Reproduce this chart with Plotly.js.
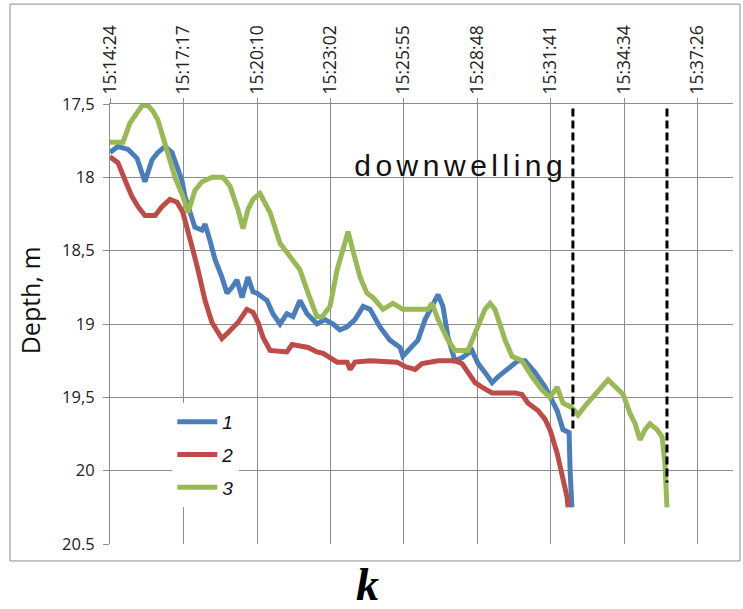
<!DOCTYPE html>
<html>
<head>
<meta charset="utf-8">
<script src="https://cdn.plot.ly/plotly-3.0.1.min.js"></script>
<style>html,body{margin:0;padding:0;background:#fff;}#chart{width:743px;height:609px;}</style>
</head>
<body>
<div id="chart"></div>
<script>
// elapsed minutes since 15:14:24 and depth (m)
const t1 = [0.00,0.31,0.71,1.06,1.37,1.65,1.88,2.16,2.43,2.63,2.82,2.94,3.14,3.33,3.61,3.73,3.92,4.12,4.39,4.59,4.79,4.98,5.18,5.41,5.61,5.77,6.16,6.39,6.67,6.94,7.18,7.45,7.73,8.12,8.43,8.75,9.02,9.30,9.61,9.93,10.20,10.59,10.98,11.38,11.49,11.85,12.08,12.36,12.63,12.87,13.06,13.26,13.53,13.81,14.20,14.44,14.71,14.99,15.22,15.61,16.01,16.28,16.67,17.07,17.34,17.54,17.77,18.01,18.05,18.12];
const d1 = [17.83,17.79,17.81,17.87,18.03,17.88,17.83,17.79,17.83,17.93,18.02,18.13,18.24,18.34,18.36,18.32,18.43,18.56,18.68,18.79,18.75,18.70,18.82,18.68,18.78,18.79,18.84,18.93,19.00,18.93,18.95,18.84,18.93,19.00,18.97,19.00,19.04,19.02,18.97,18.88,18.90,19.02,19.11,19.16,19.22,19.16,19.11,18.97,18.88,18.80,18.88,19.09,19.25,19.23,19.18,19.27,19.33,19.40,19.36,19.31,19.25,19.25,19.33,19.43,19.52,19.59,19.72,19.74,20.00,20.25];

const t2 = [0.00,0.31,0.59,0.86,1.10,1.37,1.77,2.04,2.35,2.63,2.86,3.06,3.26,3.45,3.73,4.00,4.24,4.39,4.63,5.02,5.37,5.61,5.81,6.00,6.28,6.94,7.14,7.77,8.12,8.36,8.63,8.91,9.30,9.42,9.61,10.20,11.26,11.57,11.97,12.24,12.87,13.53,13.81,14.04,14.32,14.59,14.99,15.89,16.16,16.40,16.79,17.07,17.26,17.54,17.73,17.93,17.97];
const d2 = [17.86,17.90,18.02,18.13,18.20,18.26,18.26,18.20,18.15,18.17,18.24,18.36,18.50,18.63,18.84,18.99,19.06,19.10,19.06,18.99,18.90,18.92,18.99,19.09,19.18,19.19,19.14,19.16,19.19,19.20,19.23,19.26,19.26,19.31,19.26,19.25,19.26,19.29,19.31,19.27,19.25,19.25,19.27,19.33,19.40,19.43,19.47,19.47,19.48,19.54,19.59,19.65,19.72,19.88,20.02,20.18,20.25];

const t3 = [0.00,0.51,0.78,1.10,1.26,1.49,1.69,1.88,2.16,2.55,2.86,3.06,3.33,3.61,4.00,4.43,4.71,5.02,5.22,5.41,5.61,5.88,6.28,6.67,7.06,7.45,7.77,8.12,8.32,8.63,8.91,9.14,9.34,9.53,9.81,10.08,10.32,10.71,11.10,11.49,12.48,12.63,12.87,13.26,13.53,14.04,14.32,14.71,14.91,15.10,15.50,15.77,16.16,16.56,16.95,17.26,17.54,17.77,18.12,18.36,18.63,18.95,19.22,19.54,19.89,20.13,20.40,20.60,20.79,20.99,21.18,21.46,21.66,21.77,21.85];
const d3 = [17.76,17.76,17.63,17.54,17.51,17.51,17.55,17.61,17.77,18.00,18.13,18.24,18.09,18.03,18.00,18.00,18.06,18.22,18.35,18.22,18.15,18.11,18.24,18.45,18.54,18.63,18.79,18.95,18.95,18.88,18.63,18.50,18.37,18.50,18.68,18.79,18.82,18.90,18.86,18.90,18.90,18.86,18.97,19.11,19.18,19.18,19.06,18.90,18.86,18.90,19.11,19.22,19.25,19.36,19.45,19.50,19.43,19.54,19.57,19.62,19.56,19.50,19.45,19.38,19.44,19.48,19.61,19.68,19.79,19.72,19.68,19.72,19.77,19.95,20.25];

const seriesNames = ['1','2','3'];
const timeLabels = ['15:14:24','15:17:17','15:20:10','15:23:02','15:25:55','15:28:48','15:31:41','15:34:34','15:37:26'];
const depthTicks = [17.5,18,18.5,19,19.5,20,20.5];
const depthLabels = ['17,5','18','18,5','19','19,5','20','20.5'];

// dashed "downwelling" markers: time (elapsed min), top and bottom depth
const dashX = [18.16, 21.85];
const dashTop = [17.53, 17.53];
const dashBottom = [19.72, 20.08];

function toMin(s){const p=s.split(':').map(Number);return (p[0]*3600+p[1]*60+p[2]-(15*3600+14*60+24))/60;}
const tickPos = timeLabels.map(toMin);

const colors = ['#4A7EBB','#BE4B48','#98B954'];
const T = [t1,t2,t3], D = [d1,d2,d3];
const data = [];
for (let i=0;i<3;i++){
  data.push({x:T[i], y:D[i], type:'scatter', mode:'lines', name:seriesNames[i],
    legendgroup:'g'+i, line:{color:colors[i], width:5}});
}
for (let j=0;j<dashX.length;j++){
  data.push({x:[dashX[j],dashX[j]], y:[dashTop[j],dashBottom[j]], type:'scatter', mode:'lines',
    showlegend:false, hoverinfo:'skip', line:{color:'#000', width:3, dash:'8px,4px'}});
}

const layout = {
  width:743, height:609,
  margin:{l:110, r:10, t:104, b:65},
  paper_bgcolor:'#fff', plot_bgcolor:'#fff',
  font:{family:'Open Sans, sans-serif', color:'#222'},
  xaxis:{side:'top', range:[0,24.44], tickvals:tickPos, ticktext:timeLabels, tickangle:-90,
    showgrid:true, gridcolor:'#8c8c8c', gridwidth:1, zeroline:false,
    ticks:'outside', ticklen:5, tickcolor:'#8c8c8c', showline:true, linecolor:'#8c8c8c',
    tickfont:{size:17.5, family:'Open Sans, sans-serif', color:'#222'}},
  yaxis:{range:[20.5,17.5], tickvals:depthTicks, ticktext:depthLabels,
    showgrid:true, gridcolor:'#8c8c8c', gridwidth:1, zeroline:false,
    ticks:'outside', ticklen:6, tickcolor:'#8c8c8c', showline:true, linecolor:'#8c8c8c',
    ticklabelstandoff:5,
    tickfont:{size:16.5, family:'Open Sans, sans-serif', color:'#222'}},
  showlegend:true,
  legend:{x:0.1, y:0.3205, xanchor:'left', yanchor:'top', bgcolor:'#fff', borderwidth:0,
    traceorder:'grouped', tracegroupgap:5, itemwidth:40,
    font:{size:19, family:'Liberation Sans, Arial, sans-serif', style:'italic', color:'#111'}},
  shapes:[{type:'rect', xref:'paper', yref:'paper', x0:-0.1605, x1:1.0112, y0:-0.0386, y1:1.227,
    line:{color:'#8c8c8c', width:1}, fillcolor:'rgba(0,0,0,0)', layer:'below'}],
  annotations:[
    {text:'Depth, m', xref:'paper', yref:'paper', x:-0.128, y:0.5545, xanchor:'center', yanchor:'middle', textangle:-90,
      showarrow:false, font:{size:25, family:'Open Sans, sans-serif', color:'#111'}},
    {text:'downwelling', xref:'paper', yref:'paper', x:0.5618, y:0.861, xanchor:'center', yanchor:'middle', showarrow:false,
      font:{size:30, family:'Liberation Sans, Arial, sans-serif', color:'#111'}},
    {text:'k', xref:'paper', yref:'paper', x:0.414, y:-0.093, xanchor:'center', yanchor:'middle', showarrow:false,
      font:{size:46, family:'Liberation Serif, Times New Roman, serif', weight:'bold', style:'italic', color:'#000'}}
  ]
};

Plotly.newPlot('chart', data, layout, {displayModeBar:false, staticPlot:true}).then(function(){
  document.querySelectorAll('.annotation-text').forEach(function(el){
    if (el.textContent === 'downwelling') el.setAttribute('letter-spacing','4.5px');
  });
});
</script>
</body>
</html>
